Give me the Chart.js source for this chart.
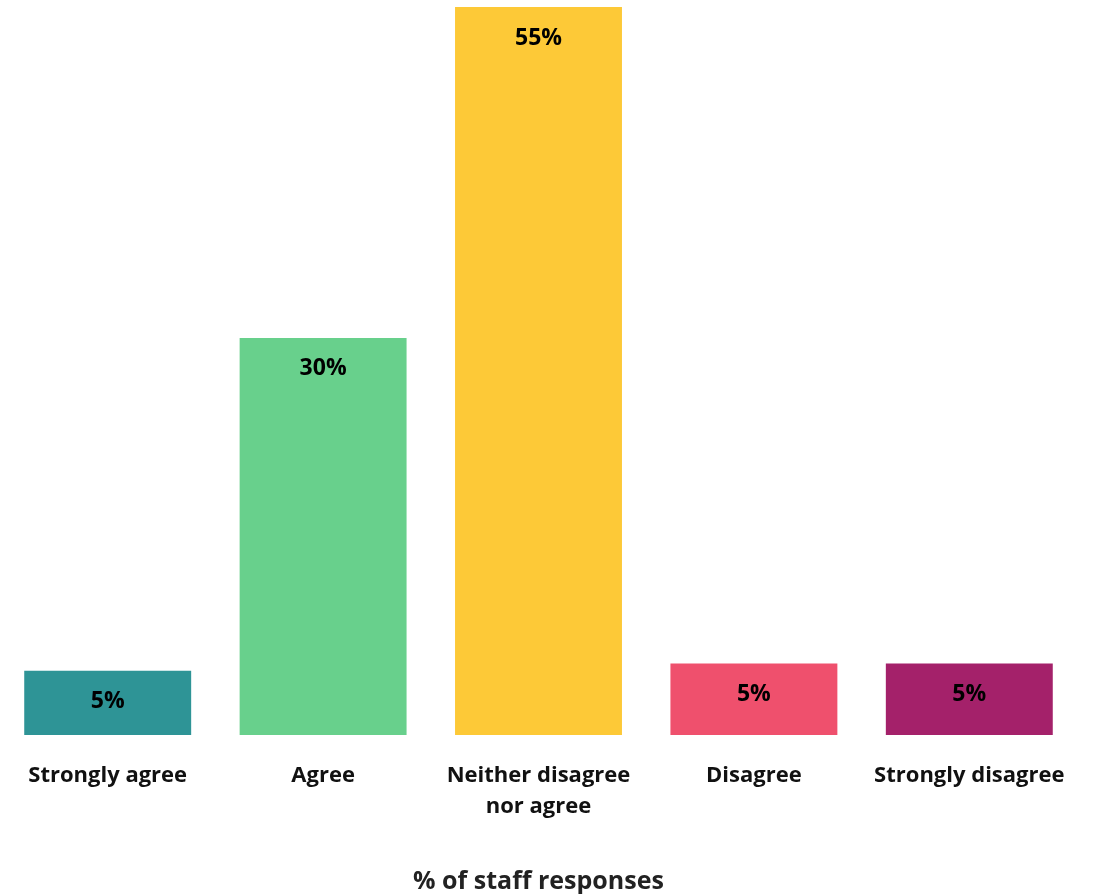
<!DOCTYPE html>
<html>
<head>
<meta charset="utf-8">
<script src="https://cdn.jsdelivr.net/npm/chart.js@4"></script>
<style>
  html, body { margin: 0; padding: 0; background: #fff; }
  #wrap { width: 1097px; height: 894px; }
</style>
</head>
<body>
<div id="wrap"><canvas id="c"></canvas></div>
<script>
const categories = ['Strongly agree', 'Agree', ['Neither disagree', 'nor agree'], 'Disagree', 'Strongly disagree'];
const values = [4.85, 30, 55, 5.4, 5.4];
const valueLabels = ['5%', '30%', '55%', '5%', '5%'];
const colors = ['#2E9496', '#68D08C', '#FDC937', '#EF506D', '#A4216A'];

const FONT = '"Open Sans", "Noto Sans", sans-serif';

// labels drawn inside the top of each bar
const barLabels = {
  id: 'barLabels',
  afterDatasetsDraw(chart) {
    const ctx = chart.ctx;
    const meta = chart.getDatasetMeta(0);
    ctx.save();
    ctx.font = 'bold 23px ' + FONT;
    ctx.fillStyle = '#000';
    ctx.textAlign = 'center';
    ctx.textBaseline = 'middle';
    meta.data.forEach((bar, i) => {
      ctx.fillText(valueLabels[i], bar.x, bar.y + 31);
    });
    ctx.restore();
  }
};

new Chart(document.getElementById('c'), {
  type: 'bar',
  data: {
    labels: categories,
    datasets: [{
      data: values,
      backgroundColor: colors,
      borderWidth: 0,
      categoryPercentage: 0.775,
      barPercentage: 1
    }]
  },
  options: {
    responsive: true,
    maintainAspectRatio: false,
    animation: false,
    layout: { padding: { top: 7, right: 20, left: 0, bottom: 0 } },
    plugins: {
      legend: { display: false },
      tooltip: { enabled: false }
    },
    scales: {
      x: {
        grid: { display: false },
        border: { display: false },
        ticks: {
          color: '#111',
          padding: 17,
          maxRotation: 0,
          autoSkip: false,
          font: { family: FONT, size: 22, weight: 'bold', lineHeight: 1.41 }
        },
        title: {
          display: true,
          text: '% of staff responses',
          color: '#222',
          padding: { top: 30, bottom: 0 },
          font: { family: FONT, size: 25, weight: 'bold', lineHeight: 1.0 }
        }
      },
      y: {
        display: false,
        min: 0,
        max: 55
      }
    }
  },
  plugins: [barLabels]
});
</script>
</body>
</html>
